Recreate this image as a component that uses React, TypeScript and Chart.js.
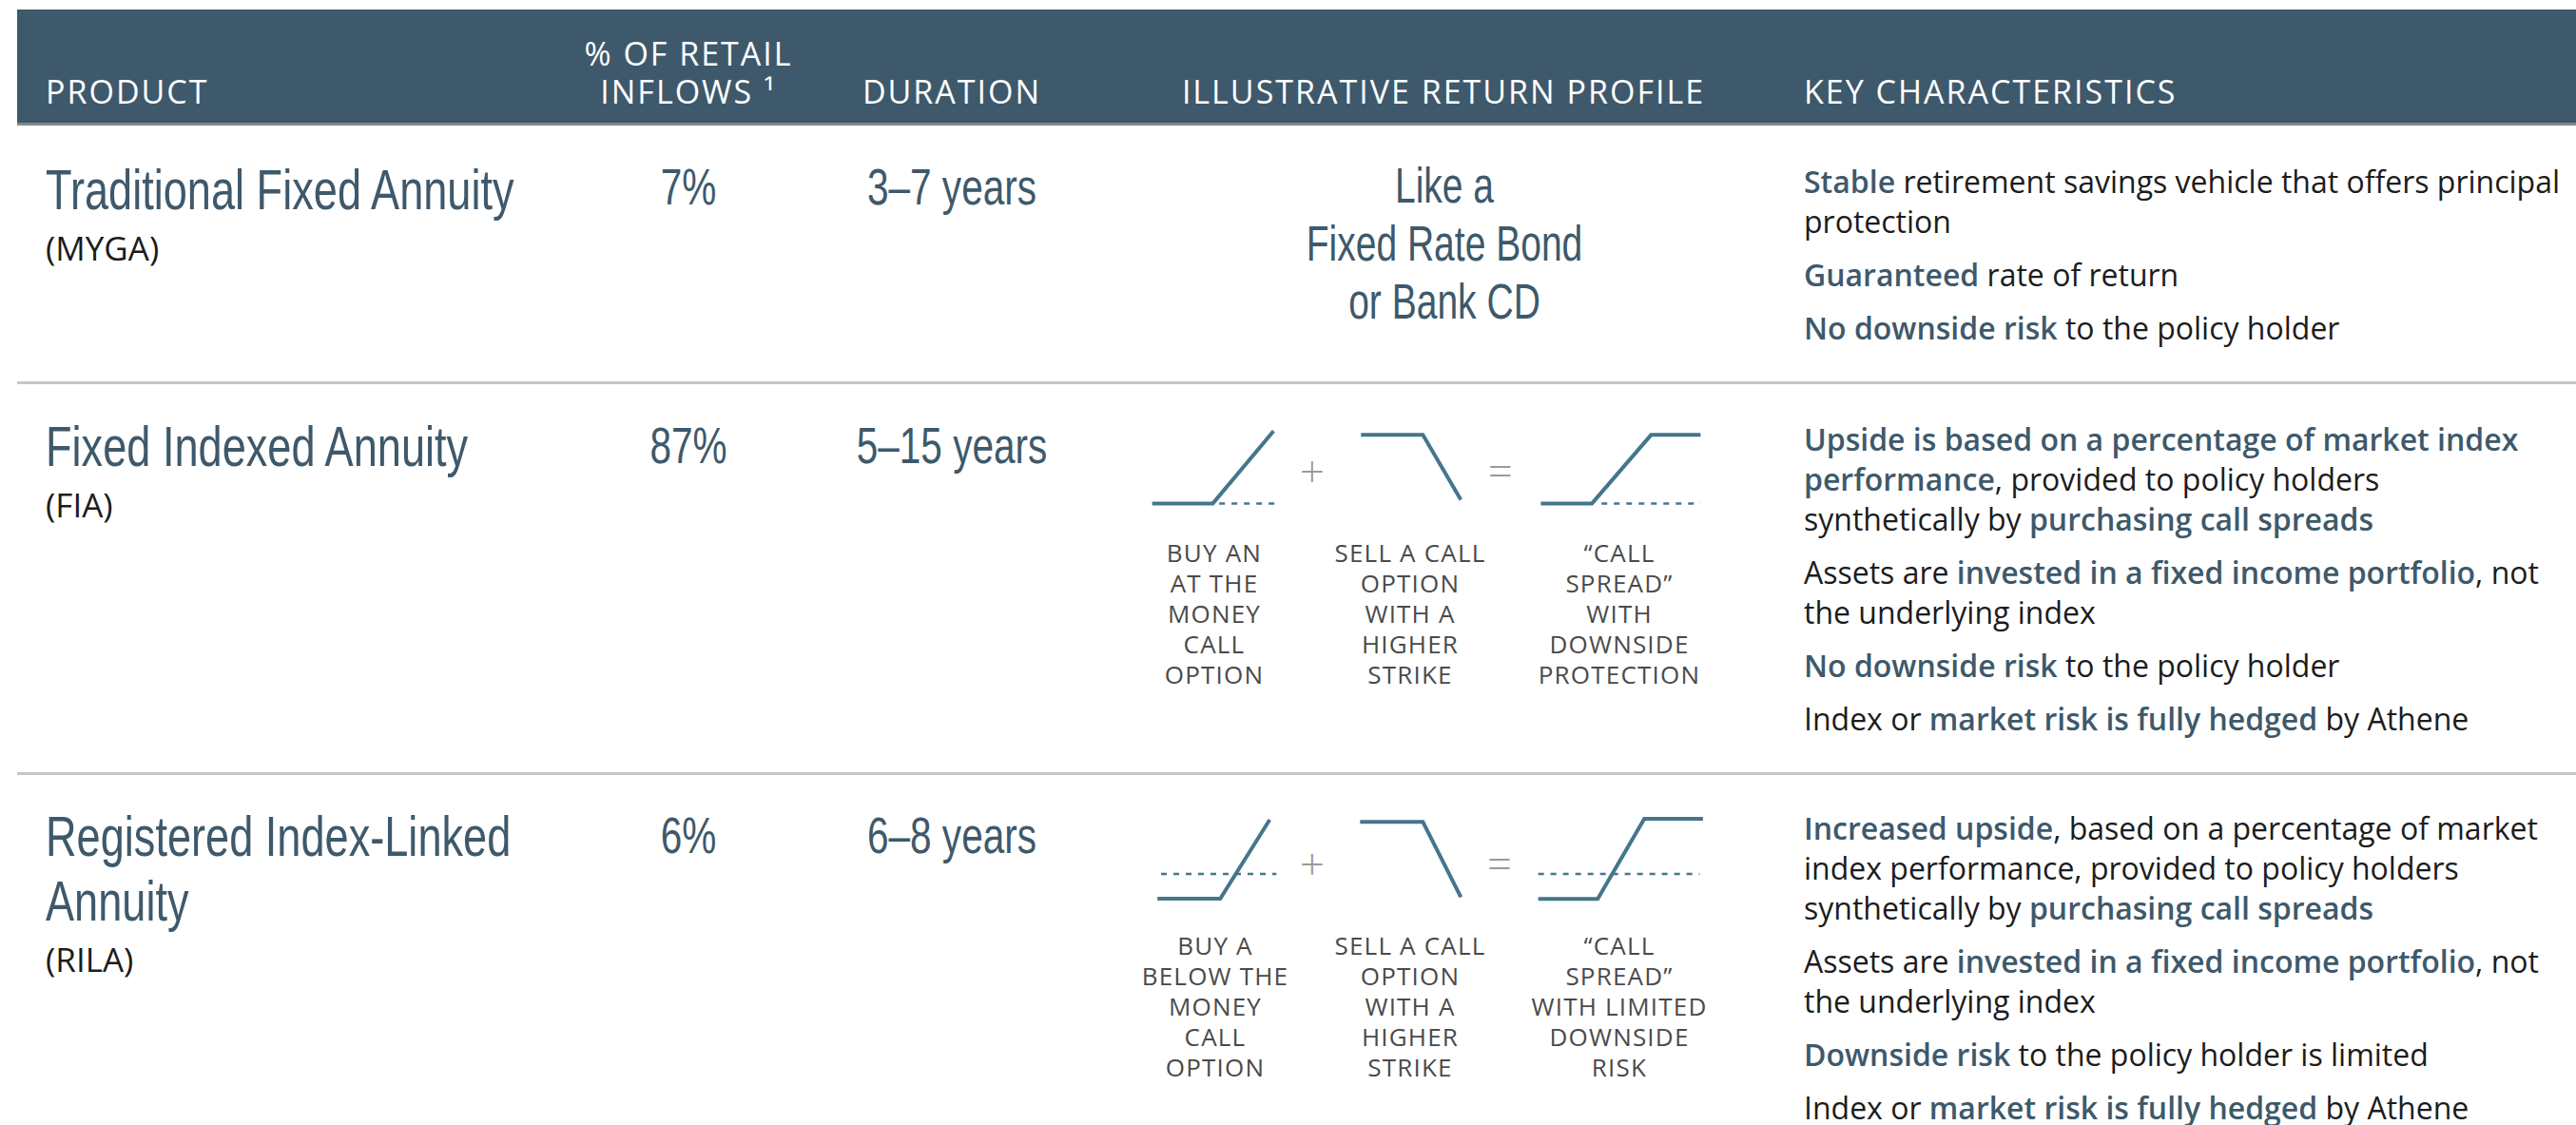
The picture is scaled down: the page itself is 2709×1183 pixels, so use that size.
import React, { useEffect, useRef } from "react";
import { Chart, registerables } from "chart.js";

Chart.register(...registerables);

// ---------- DATA ----------
const headerLabels = ["PRODUCT", "% OF RETAIL", "INFLOWS ¹", "DURATION", "ILLUSTRATIVE RETURN PROFILE", "KEY CHARACTERISTICS"];
const productNames = ["Traditional Fixed Annuity", "Fixed Indexed Annuity", "Registered Index-Linked Annuity"];
const productAbbr = ["(MYGA)", "(FIA)", "(RILA)"];
const retailInflowShare = ["7%", "87%", "6%"];
const durations = ["3–7 years", "5–15 years", "6–8 years"];
const mygaProfile = ["Like a", "Fixed Rate Bond", "or Bank CD"];

type Pt = { x: number; y: number };
// payoff kink points (x = underlying level, y = payoff units)
const fiaBuyCall: Pt[] = [{ x: 0, y: 0 }, { x: 4.8, y: 0 }, { x: 9.6, y: 4.95 }];
const fiaBuyCallRef: Pt[] = [{ x: 5.3, y: 0 }, { x: 10, y: 0 }];
const fiaSellCall: Pt[] = [{ x: 0, y: 4.68 }, { x: 6.2, y: 4.68 }, { x: 10, y: 0.26 }];
const fiaSpread: Pt[] = [{ x: 0, y: 0 }, { x: 3.2, y: 0 }, { x: 6.9, y: 4.68 }, { x: 10, y: 4.68 }];
const fiaSpreadRef: Pt[] = [{ x: 3.8, y: 0 }, { x: 10, y: 0 }];

const rilaBuyCall: Pt[] = [{ x: 0, y: -1.69 }, { x: 5.28, y: -1.69 }, { x: 9.44, y: 3.7 }];
const rilaBuyCallRef: Pt[] = [{ x: 0.3, y: 0 }, { x: 10, y: 0 }];
const rilaSellCall: Pt[] = [{ x: 0, y: 3.55 }, { x: 6.23, y: 3.55 }, { x: 10, y: -1.58 }];
const rilaSpread: Pt[] = [{ x: 0, y: -1.71 }, { x: 3.61, y: -1.71 }, { x: 6.44, y: 3.77 }, { x: 10, y: 3.77 }];
const rilaSpreadRef: Pt[] = [{ x: 0, y: 0 }, { x: 9.8, y: 0 }];

const fiaCaptions = [
  ["BUY AN", "AT THE", "MONEY", "CALL", "OPTION"],
  ["SELL A CALL", "OPTION", "WITH A", "HIGHER", "STRIKE"],
  ["“CALL", "SPREAD”", "WITH", "DOWNSIDE", "PROTECTION"],
];
const rilaCaptions = [
  ["BUY A", "BELOW THE", "MONEY", "CALL", "OPTION"],
  ["SELL A CALL", "OPTION", "WITH A", "HIGHER", "STRIKE"],
  ["“CALL", "SPREAD”", "WITH LIMITED", "DOWNSIDE", "RISK"],
];

type Seg = [string, boolean];
const mygaTraits: Seg[][][] = [
  [[["Stable", true], [" retirement savings vehicle that offers principal", false]], [["protection", false]]],
  [[["Guaranteed", true], [" rate of return", false]]],
  [[["No downside risk", true], [" to the policy holder", false]]],
];
const fiaTraits: Seg[][][] = [
  [
    [["Upside is based on a percentage of market index", true]],
    [["performance", true], [", provided to policy holders", false]],
    [["synthetically by ", false], ["purchasing call spreads", true]],
  ],
  [[["Assets are ", false], ["invested in a fixed income portfolio", true], [", not", false]], [["the underlying index", false]]],
  [[["No downside risk", true], [" to the policy holder", false]]],
  [[["Index or ", false], ["market risk is fully hedged", true], [" by Athene", false]]],
];
const rilaTraits: Seg[][][] = [
  [
    [["Increased upside", true], [", based on a percentage of market", false]],
    [["index performance, provided to policy holders", false]],
    [["synthetically by ", false], ["purchasing call spreads", true]],
  ],
  [[["Assets are ", false], ["invested in a fixed income portfolio", true], [", not", false]], [["the underlying index", false]]],
  [[["Downside risk", true], [" to the policy holder is limited", false]]],
  [[["Index or ", false], ["market risk is fully hedged", true], [" by Athene", false]]],
];

// ---------- STYLE ----------
const SLATE = "#3e596b";
const LINE = "#44768d";
const TEXT = "#1c1c1c";
const CAPTION = "#4a4a4a";
const OPS = "#9a9a9a";
const NARROW = '"Liberation Sans", Arial, sans-serif';
const NARROW_SCALE = 0.765;
const SANS = '"Open Sans", "Noto Sans", sans-serif';
const Y_UNIT = 15.4;

type PayoffProps = {
  boxLeft: number;
  boxWidth: number;
  zeroY: number;
  yMin: number;
  yMax: number;
  solid: Pt[];
  dashed: Pt[];
};

function Payoff({ boxLeft, boxWidth, zeroY, yMin, yMax, solid, dashed }: PayoffProps) {
  const ref = useRef<HTMLCanvasElement | null>(null);
  const unitX = boxWidth / 10;
  const padX = 0.5;
  const canvasW = Math.round(boxWidth + 2 * padX * unitX);
  const canvasH = Math.round((yMax - yMin) * Y_UNIT);
  const xMin = -padX;
  const xMax = xMin + canvasW / unitX;
  const yLow = yMax - canvasH / Y_UNIT;
  const left = boxLeft - padX * unitX;
  const top = zeroY - yMax * Y_UNIT;

  useEffect(() => {
    if (!ref.current) return;
    const chart = new Chart(ref.current, {
      type: "line",
      data: {
        datasets: [
          {
            data: dashed,
            borderColor: LINE,
            borderWidth: 2.5,
            borderDash: [6, 7],
            pointRadius: 0,
            fill: false,
            tension: 0,
          },
          {
            data: solid,
            borderColor: LINE,
            borderWidth: 4,
            pointRadius: 0,
            fill: false,
            tension: 0,
            borderJoinStyle: "miter",
          },
        ],
      },
      options: {
        responsive: false,
        maintainAspectRatio: false,
        animation: false,
        devicePixelRatio: 1,
        events: [],
        layout: { padding: 0 },
        plugins: { legend: { display: false }, tooltip: { enabled: false } },
        scales: {
          x: { type: "linear", display: false, min: xMin, max: xMax },
          y: { type: "linear", display: false, min: yLow, max: yMax },
        },
      },
    } as any);
    return () => chart.destroy();
  }, []);

  return (
    <canvas
      ref={ref}
      width={canvasW}
      height={canvasH}
      style={{ position: "absolute", left, top, width: canvasW, height: canvasH, display: "block" }}
    />
  );
}

function Captions({ lines, cx, top }: { lines: string[]; cx: number; top: number }) {
  return (
    <div
      style={{
        position: "absolute",
        left: cx - 120,
        width: 240,
        top,
        textAlign: "center",
        fontFamily: SANS,
        fontSize: 26,
        lineHeight: "32px",
        letterSpacing: 1.2,
        color: CAPTION,
        whiteSpace: "nowrap",
      }}
    >
      {lines.map((l, i) => (
        <div key={i}>{l}</div>
      ))}
    </div>
  );
}

function Op({ sym, cx, cy }: { sym: string; cx: number; cy: number }) {
  const S = 46;
  return (
    <div
      style={{
        position: "absolute",
        left: cx - 30,
        width: 60,
        top: cy - S / 2,
        height: S,
        lineHeight: `${S}px`,
        fontSize: S,
        fontWeight: 300,
        fontFamily: SANS,
        color: OPS,
        textAlign: "center",
      }}
    >
      {sym}
    </div>
  );
}

function Traits({ paras, top }: { paras: Seg[][][]; top: number }) {
  return (
    <div
      style={{
        position: "absolute",
        left: 1897,
        top,
        fontFamily: SANS,
        fontSize: 32,
        lineHeight: "42px",
        color: TEXT,
        whiteSpace: "nowrap",
      }}
    >
      {paras.map((p, pi) => (
        <div key={pi} style={{ marginBottom: 14 }}>
          {p.map((line, li) => (
            <div key={li}>
              {line.map(([t, hl], si) => (
                <span key={si} style={hl ? { color: SLATE, fontWeight: 600 } : undefined}>
                  {t}
                </span>
              ))}
            </div>
          ))}
        </div>
      ))}
    </div>
  );
}

function Title({ text, top }: { text: string; top: number }) {
  const words = text.split(" ");
  return (
    <div
      style={{
        position: "absolute",
        left: 48,
        top,
        width: 560 / NARROW_SCALE,
        fontFamily: NARROW,
        fontSize: 59,
        lineHeight: "68px",
        color: SLATE,
        transform: `scaleX(${NARROW_SCALE})`,
        transformOrigin: "left top",
      }}
    >
      {words.map((w, i) => (
        <React.Fragment key={i}>
          <span style={{ whiteSpace: "nowrap" }}>{w}</span>
          {i < words.length - 1 ? " " : ""}
        </React.Fragment>
      ))}
    </div>
  );
}

function Abbr({ text, top }: { text: string; top: number }) {
  return (
    <div style={{ position: "absolute", left: 48, top, fontFamily: SANS, fontSize: 35, lineHeight: "40px", color: TEXT }}>
      {text}
    </div>
  );
}

function BigCentered({ text, cx, top }: { text: string; cx: number; top: number }) {
  return (
    <div
      style={{
        position: "absolute",
        left: cx - 200,
        width: 400,
        top,
        textAlign: "center",
        fontFamily: NARROW,
        fontSize: 53,
        lineHeight: "60px",
        color: SLATE,
        whiteSpace: "nowrap",
        transform: `scaleX(${NARROW_SCALE})`,
        transformOrigin: "center top",
      }}
    >
      {text}
    </div>
  );
}

export default function App() {
  useEffect(() => {
    document.body.style.margin = "0";
  }, []);

  const headText: React.CSSProperties = {
    position: "absolute",
    fontFamily: SANS,
    fontSize: 34,
    lineHeight: "40px",
    letterSpacing: 2,
    color: "#ffffff",
    whiteSpace: "nowrap",
  };

  const rowTitleTops = [166, 436, 846];
  const abbrTops = [241, 511, 989];
  const numTops = [167, 439, 849];
  const traitTops = [170, 441, 850];

  return (
    <div style={{ position: "relative", width: 2709, height: 1183, background: "#fff", overflow: "hidden" }}>
      <style>{`body{margin:0}`}</style>
      {/* header band */}
      <div style={{ position: "absolute", left: 18, top: 10, right: 0, height: 119, background: SLATE, borderBottom: "3px solid #868686" }} />
      <div style={{ ...headText, left: 48, top: 76 }}>{headerLabels[0]}</div>
      <div style={{ ...headText, left: 524, width: 400, top: 36, textAlign: "center" }}>
        <div>{headerLabels[1]}</div>
        <div>{headerLabels[2]}</div>
      </div>
      <div style={{ ...headText, left: 801, width: 400, top: 76, textAlign: "center" }}>{headerLabels[3]}</div>
      <div style={{ ...headText, left: 1218, width: 600, top: 76, textAlign: "center" }}>{headerLabels[4]}</div>
      <div style={{ ...headText, left: 1897, top: 76 }}>{headerLabels[5]}</div>

      {/* row dividers */}
      <div style={{ position: "absolute", left: 18, right: 0, top: 401, height: 3, background: "#c6c6c6" }} />
      <div style={{ position: "absolute", left: 18, right: 0, top: 812, height: 3, background: "#c6c6c6" }} />

      {/* product names */}
      {productNames.map((n, i) => (
        <Title key={i} text={n} top={rowTitleTops[i]} />
      ))}
      {productAbbr.map((a, i) => (
        <Abbr key={i} text={a} top={abbrTops[i]} />
      ))}
      {retailInflowShare.map((v, i) => (
        <BigCentered key={"s" + i} text={v} cx={724} top={numTops[i]} />
      ))}
      {durations.map((v, i) => (
        <BigCentered key={"d" + i} text={v} cx={1001} top={numTops[i]} />
      ))}

      {/* MYGA profile text */}
      <div
        style={{
          position: "absolute",
          left: 1319,
          width: 400,
          top: 165,
          textAlign: "center",
          fontFamily: NARROW,
          fontSize: 51,
          lineHeight: "61px",
          color: SLATE,
          whiteSpace: "nowrap",
          transform: `scaleX(${NARROW_SCALE})`,
          transformOrigin: "center top",
        }}
      >
        {mygaProfile.map((l, i) => (
          <div key={i}>{l}</div>
        ))}
      </div>

      {/* FIA payoff diagrams */}
      <Payoff boxLeft={1212} boxWidth={133} zeroY={529} yMin={-1} yMax={6} solid={fiaBuyCall} dashed={fiaBuyCallRef} />
      <Payoff boxLeft={1431} boxWidth={105} zeroY={529} yMin={-1} yMax={6} solid={fiaSellCall} dashed={[]} />
      <Payoff boxLeft={1620} boxWidth={168} zeroY={529} yMin={-1} yMax={6} solid={fiaSpread} dashed={fiaSpreadRef} />
      <Op sym="+" cx={1380} cy={494} />
      <Op sym="=" cx={1578} cy={494} />
      <Captions lines={fiaCaptions[0]} cx={1277} top={565} />
      <Captions lines={fiaCaptions[1]} cx={1483} top={565} />
      <Captions lines={fiaCaptions[2]} cx={1703} top={565} />

      {/* RILA payoff diagrams */}
      <Payoff boxLeft={1217} boxWidth={125} zeroY={919} yMin={-3} yMax={5} solid={rilaBuyCall} dashed={rilaBuyCallRef} />
      <Payoff boxLeft={1430} boxWidth={106} zeroY={919} yMin={-3} yMax={5} solid={rilaSellCall} dashed={[]} />
      <Payoff boxLeft={1617.5} boxWidth={173.2} zeroY={919} yMin={-3} yMax={5} solid={rilaSpread} dashed={rilaSpreadRef} />
      <Op sym="+" cx={1380} cy={907} />
      <Op sym="=" cx={1577} cy={907} />
      <Captions lines={rilaCaptions[0]} cx={1278} top={978} />
      <Captions lines={rilaCaptions[1]} cx={1483} top={978} />
      <Captions lines={rilaCaptions[2]} cx={1703} top={978} />

      {/* key characteristics */}
      <Traits paras={mygaTraits} top={traitTops[0]} />
      <Traits paras={fiaTraits} top={traitTops[1]} />
      <Traits paras={rilaTraits} top={traitTops[2]} />
    </div>
  );
}
